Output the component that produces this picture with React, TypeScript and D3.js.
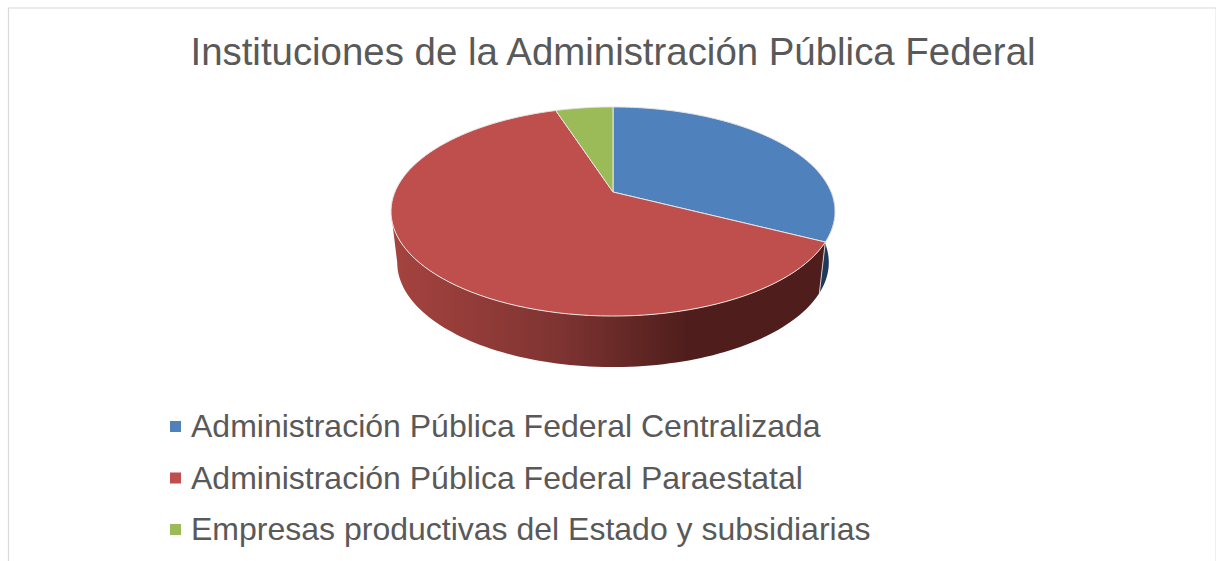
import React from "react";
import * as d3 from "d3";

const titleText = "Instituciones de la Administración Pública Federal";
const categories = [
  "Administración Pública Federal Centralizada",
  "Administración Pública Federal Paraestatal",
  "Empresas productivas del Estado y subsidiarias",
];
const values = [32.5, 62.5, 5];
const topColors = ["#4f81bd", "#be4f4c", "#9bbb59"];
const wallStops = [
  ["0%", "#a5433f"],
  ["38%", "#7f3432"],
  ["68%", "#4f1e1c"],
  ["100%", "#4f1e1c"],
];

const W = 1217, H = 561;
const font = "'Liberation Sans', Arial, sans-serif";
const K = -0.1866;
const project = (t: number, cx: number, cy: number, b: number, a: number): [number, number] => {
  const u = Math.sin(t), v = -Math.cos(t);
  const d = 1 + K * v;
  return [cx + (b * u) / d, cy + (a * v) / d];
};
const top = (t: number) => project(t, 613, 192, 218.1, 100.9);
const base = (t: number) => project(t, 613, 243, 212, 100.9);
const line = d3.line();

const samples = (a: number, b: number) => d3.range(0, 97).map((i) => a + ((b - a) * i) / 96);

export default function App() {
  const arcs = d3.pie<number>().sort(null)(values);
  const legendY = d3.scalePoint<number>().domain([0, 1, 2]).range([427, 530]);
  const wall = (a: number, b: number) => {
    const s = samples(a, b);
    return line([...s.map(top), ...s.slice().reverse().map(base)]) + "Z";
  };
  const slice = (a: number, b: number) =>
    line([[613, 192], ...samples(a, b).map(top)]) + "Z";
  const blueEnd = arcs[0].endAngle;
  return (
    <svg width={W} height={H} style={{ position: "absolute", left: 0, top: 0, background: "#fff" }}>
      <defs>
        <linearGradient id="wallRed" gradientUnits="userSpaceOnUse" x1={392} x2={825} y1={0} y2={0}>
          {wallStops.map(([o, c]) => <stop key={o} offset={o} stopColor={c} />)}
        </linearGradient>
      </defs>
      <path d="M1215.5 8V561" fill="none" stroke="#f0f0f0" strokeWidth={1} />
      <path d="M8.5 561V8H1216" fill="none" stroke="#d9d9d9" strokeWidth={1.2} />
      <text x={613} y={65} textAnchor="middle" fontFamily={font} fontSize={38.4} fill="#595959">{titleText}</text>

      <path d={wall(Math.PI / 2 - 0.08, blueEnd)} fill="#1d3a5c" />
      <path d={wall(blueEnd, Math.PI * 1.44)} fill="url(#wallRed)" />
      <path d={line([top(blueEnd), base(blueEnd)])!} stroke="#d9c9c8" strokeWidth={1} fill="none" />
      {arcs.map((d, i) => (
        <path key={i} d={slice(d.startAngle, d.endAngle)} fill={topColors[i]} stroke="#e9e4e2" strokeWidth={1} strokeLinejoin="round" />
      ))}
      {categories.map((c, i) => (
        <g key={c}>
          <rect x={170} y={legendY(i)! - 6} width={11} height={11} fill={topColors[i]} />
          <text x={191} y={legendY(i)! + 10} fontFamily={font} fontSize={32} fill="#595959">{c}</text>
        </g>
      ))}
    </svg>
  );
}
